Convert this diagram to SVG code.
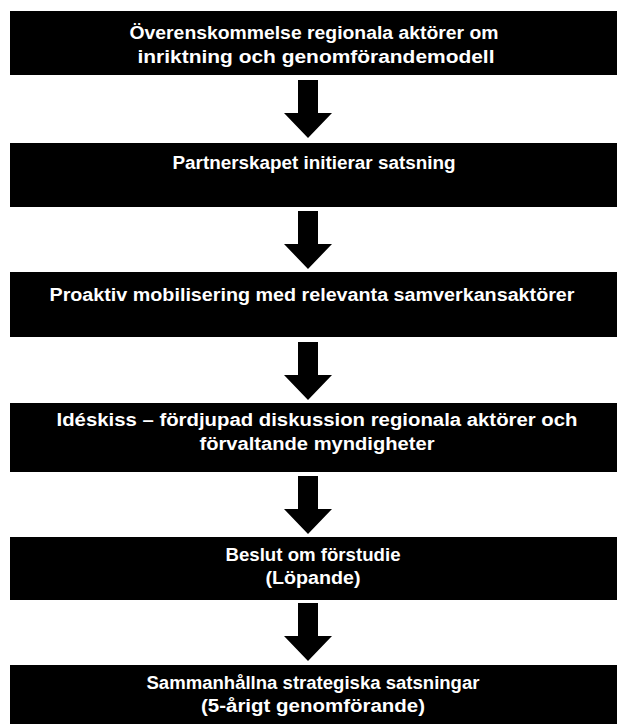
<svg xmlns="http://www.w3.org/2000/svg" width="626" height="724" viewBox="0 0 626 724">
<defs>
<style>
.box{fill:#000}
.t{fill:#fff;font-family:"Liberation Sans",Arial,sans-serif;font-size:18px;font-weight:bold;text-anchor:middle}
.arrow{fill:#000}
</style>
<path id="arr" class="arrow" d="M-10,0 H10 V33 H24 L0,58 L-24,33 H-10 Z"/>
</defs>
<rect width="626" height="724" fill="#fff"/>
<g id="connectors">
<use href="#arr" x="308" y="80"/>
<use href="#arr" x="308" y="211"/>
<use href="#arr" x="308" y="342"/>
<use href="#arr" x="308" y="476"/>
<use href="#arr" x="308" y="603"/>
</g>
<g id="n1">
<rect class="box" x="10" y="11" width="607" height="64"/>
<text class="t" x="314" y="39" textLength="369" lengthAdjust="spacingAndGlyphs">Överenskommelse regionala aktörer om</text>
<text class="t" x="316" y="63" textLength="357" lengthAdjust="spacingAndGlyphs">inriktning och genomförandemodell</text>
</g>
<g id="n2">
<rect class="box" x="10" y="143" width="607" height="64"/>
<text class="t" x="314" y="169" textLength="283" lengthAdjust="spacingAndGlyphs">Partnerskapet initierar satsning</text>
</g>
<g id="n3">
<rect class="box" x="10" y="272" width="607" height="65"/>
<text class="t" x="312" y="301" textLength="525" lengthAdjust="spacingAndGlyphs">Proaktiv mobilisering med relevanta samverkansaktörer</text>
</g>
<g id="n4">
<rect class="box" x="10" y="403" width="607" height="69"/>
<text class="t" x="317" y="426" textLength="521" lengthAdjust="spacingAndGlyphs">Idéskiss – fördjupad diskussion regionala aktörer och</text>
<text class="t" x="317" y="450" textLength="235" lengthAdjust="spacingAndGlyphs">förvaltande myndigheter</text>
</g>
<g id="n5">
<rect class="box" x="10" y="537" width="607" height="63"/>
<text class="t" x="313" y="561" textLength="175" lengthAdjust="spacingAndGlyphs">Beslut om förstudie</text>
<text class="t" x="313" y="584" textLength="95" lengthAdjust="spacingAndGlyphs">(Löpande)</text>
</g>
<g id="n6">
<rect class="box" x="10" y="665" width="607" height="59"/>
<text class="t" x="313" y="689" textLength="333" lengthAdjust="spacingAndGlyphs">Sammanhållna strategiska satsningar</text>
<text class="t" x="313" y="712" textLength="224" lengthAdjust="spacingAndGlyphs">(5-årigt genomförande)</text>
</g>
</svg>
